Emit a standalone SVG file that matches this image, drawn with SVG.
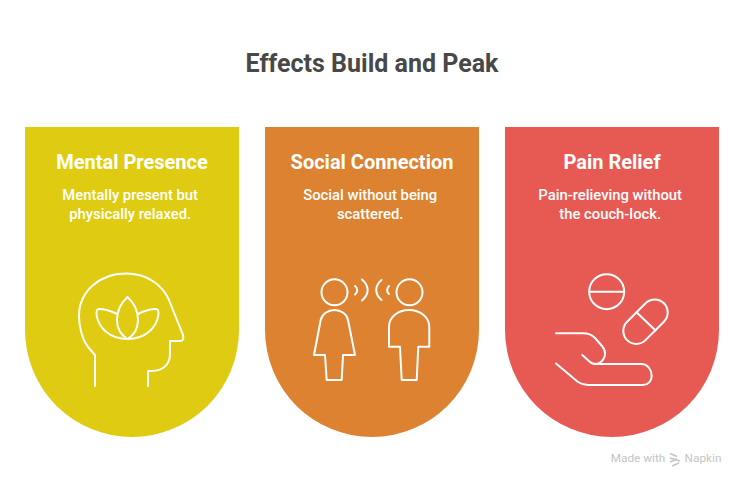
<svg xmlns="http://www.w3.org/2000/svg" width="744" height="486" viewBox="0 0 744 486">
<style>
text{font-family:Roboto,"Liberation Sans",sans-serif;text-anchor:middle}
.t{font-size:20px;font-weight:700;fill:#fff}
.b{font-size:14.800px;font-weight:500;fill:#fff}
.i{fill:none;stroke:#fff;stroke-width:2;stroke-linejoin:round;stroke-linecap:round}
</style>
<rect width="744" height="486" fill="#fff"/>
<text x="372" y="72" font-size="25" font-weight="700" fill="#484848">Effects Build and Peak</text>
<g id="node-mental">
<path d="M25 127H239V330A107 107 0 0 1 25 330Z" fill="#DFCC12"/>
<text class="t" x="132" y="169">Mental Presence</text>
<text class="b" x="130.200" y="200">Mentally present but</text>
<text class="b" x="130.200" y="218.500">physically relaxed.</text>
<path class="i" d="M95 386V355L88 347C82 339 79 326 79 316C79 292 99 273.500 126 273.500C146 273.500 162 284 169 300L183 335C184 339 183 341 180 341H170V354C170 365 162 371 152 371H148V386"/>
<path class="i" d="M127.500 297C134 303 138 312 138 320C138 328 134 335 127.500 339C121 335 117 328 117 320C117 312 121 303 127.500 297Z"/>
<path class="i" d="M117 314C111 311 104 309 99 309C97 309 96.500 311 96.500 314C98 328 110 339 127.500 339C145 339 157 328 158.500 314C158.500 311 158 309 156 309C151 309 144 311 138 314"/>
</g>
<g id="node-social">
<path d="M265 127H479V330A107 107 0 0 1 265 330Z" fill="#DC8230"/>
<text class="t" x="372" y="169">Social Connection</text>
<text class="b" x="370.200" y="200">Social without being</text>
<text class="b" x="370.200" y="218.500">scattered.</text>
<circle class="i" cx="334.500" cy="292.300" r="13"/>
<circle class="i" cx="409.500" cy="292.300" r="13"/>
<path class="i" d="M355 286C358 288 358 292 355 294.500M362 279.500C369.500 286 369.500 294 362 300.500M381.500 280C374.500 286 374.500 294 381.500 300M389 286C386.500 288 386.500 292 389 294"/>
<path class="i" d="M320.700 320C322 314 328 310 334.500 310C341 310 347 314 348 320L355 355H343L341.700 380H326.700L325 355H314Z"/>
<path class="i" d="M389 346.700V327C389 317 398 310 409 310C420 310 429.300 317 429.300 327V346.700H418.300L416.700 380H401.700L400 346.700Z"/>
</g>
<g id="node-pain">
<path d="M505 127H719V330A107 107 0 0 1 505 330Z" fill="#E75A54"/>
<text class="t" x="612" y="169">Pain Relief</text>
<text class="b" x="610.200" y="200">Pain-relieving without</text>
<text class="b" x="610.200" y="218.500">the couch-lock.</text>
<circle class="i" cx="606.700" cy="291.700" r="17.500"/>
<path class="i" d="M589.500 291.700H624"/>
<rect class="i" x="619.500" y="308.700" width="52" height="26" rx="13" transform="rotate(-45 645.500 321.700)"/>
<path class="i" d="M636.500 312.300L655.500 330.500"/>
<path class="i" d="M556 333.300H583C588 333.300 592 335 595 338L602 346C607 352 606 361 596.700 364H641C648 364 651.700 370 651.700 376C651.700 381 648 385 643 385H588C584 385 581 384 578 382L556 363.500M582.300 355L590 362C592 364 594 364 596.700 364"/>
</g>
<g id="watermark">
<text x="638" y="462" font-size="11.800" font-weight="400" fill="#c4c4c4">Made with</text>
<path d="M670 453.500L677 456.500M670 458L680 461M670 462L677 459M672 466L679 463" fill="none" stroke="#c4c4c4" stroke-width="1.600"/>
<text x="703" y="462" font-size="11.800" font-weight="400" fill="#c4c4c4">Napkin</text>
</g>
</svg>
